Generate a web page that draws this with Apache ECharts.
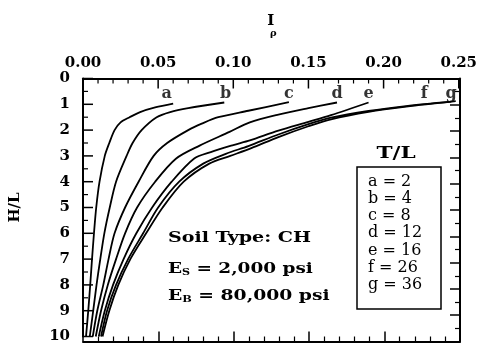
<!DOCTYPE html>
<html><head><meta charset="utf-8">
<script src="https://cdn.jsdelivr.net/npm/echarts@6/dist/echarts.min.js"></script>
<style>html,body{margin:0;padding:0;background:#fff}#c{width:480px;height:344px}</style>
</head><body><div id="c"></div>
<script>
// ---- data ----
const xTicks = ['0.00','0.05','0.10','0.15','0.20','0.25'];
const yTicks = ['0','1','2','3','4','5','6','7','8','9','10'];
const curveNames = ['a','b','c','d','e','f','g'];
const curveTL = [2, 4, 8, 12, 16, 26, 36];
const curveA = [[0.002,10],[0.0035,9],[0.0048,8],[0.006,7],[0.0073,6],[0.0088,5],[0.011,4],[0.0145,3],[0.0175,2.5],[0.021,2],[0.025,1.7],[0.031,1.5],[0.038,1.3],[0.048,1.12],[0.060,0.97]];
const curveB = [[0.0045,10],[0.0068,9],[0.009,8],[0.0115,7],[0.0142,6],[0.0178,5],[0.022,4],[0.029,3],[0.033,2.5],[0.039,2],[0.049,1.5],[0.058,1.3],[0.070,1.15],[0.094,0.93]];
const curveC = [[0.0065,10],[0.0095,9],[0.0135,8],[0.017,7],[0.021,6],[0.028,5],[0.037,4],[0.047,3],[0.056,2.5],[0.070,2],[0.079,1.75],[0.090,1.5],[0.110,1.25],[0.137,0.92]];
const curveD = [[0.0085,10],[0.012,9],[0.0165,8],[0.022,7],[0.028,6],[0.036,5],[0.048,4],[0.062,3.1],[0.0776,2.6],[0.0975,2.07],[0.111,1.7],[0.130,1.4],[0.150,1.15],[0.169,0.93]];
const curveE = [[0.0105,10],[0.0145,9],[0.020,8],[0.027,7],[0.0355,6],[0.046,5],[0.059,4],[0.074,3.1],[0.085,2.85],[0.100,2.58],[0.111,2.4],[0.130,2.02],[0.150,1.68],[0.165,1.42],[0.190,0.93]];
const curveF = [[0.012,10],[0.016,9],[0.022,8],[0.030,7],[0.040,6],[0.050,5],[0.064,4],[0.080,3.3],[0.095,2.92],[0.110,2.62],[0.130,2.17],[0.150,1.77],[0.165,1.52],[0.190,1.26],[0.215,1.07],[0.245,0.9]];
const curveG = [[0.013,10],[0.0175,9],[0.0235,8],[0.0315,7],[0.042,6],[0.053,5],[0.067,4],[0.084,3.3],[0.098,3.0],[0.112,2.7],[0.130,2.27],[0.150,1.85],[0.165,1.58],[0.190,1.29],[0.215,1.09],[0.248,0.88]];
const curveLabelX = [0.0557, 0.0948, 0.137, 0.169, 0.190, 0.227, 0.245];
const curveLabelY = 0.58;
const soilLines = ['Soil Type: CH', '2,000 psi', '80,000 psi'];

// ---- chart ----
const curves = [curveA, curveB, curveC, curveD, curveE, curveF, curveG];
const FONT = 'DejaVu Serif';
const chart = echarts.init(document.getElementById('c'), null, {renderer: 'canvas'});

function axisBase(extra, split, ticks) {
  return Object.assign({
    type: 'value', min: 0,
    axisLine: {show: true, lineStyle: {color: '#000', width: 2}},
    splitLine: {show: false},
    axisTick: {show: ticks, inside: true, length: 10, lineStyle: {color: '#000', width: 1.5}},
    minorTick: {show: ticks, splitNumber: split, length: 5, lineStyle: {color: '#000', width: 1.2}}
  }, extra);
}

// tick positions for top and left edges (major every 0.05 / 1, minor every 0.01 / 0.5)
const topTickData = [];
for (let i = 0; i <= 25; i++) topTickData.push([i / 100, 0, i % 5 === 0 ? 1 : 0]);
const leftTickData = [];
for (let j = 0; j <= 20; j++) leftTickData.push([0, j / 2, j % 2 === 0 ? 1 : 0]);

const series = curves.map((d, i) => ({
  type: 'line', name: curveNames[i], data: d, smooth: 0.3, symbol: 'none',
  xAxisIndex: 0, yAxisIndex: 0,
  lineStyle: {color: '#000', width: 1.8}, silent: true, z: 3
}));
series.push({
  type: 'scatter', xAxisIndex: 0, yAxisIndex: 0, symbolSize: 0, silent: true,
  data: curveNames.map((n, i) => ({name: n, value: [curveLabelX[i], curveLabelY]})),
  label: {show: true, position: 'inside', formatter: p => p.name,
    fontFamily: FONT, fontWeight: 'bold', fontSize: 16, color: '#000'}
});
series.push({
  type: 'custom', xAxisIndex: 0, yAxisIndex: 0, silent: true, clip: false, z: 5,
  data: topTickData,
  renderItem: (params, api) => {
    const p = api.coord([api.value(0), api.value(1)]);
    const major = api.value(2) === 1;
    return {type: 'line', shape: {x1: p[0], y1: p[1], x2: p[0], y2: p[1] + (major ? 10 : 5)},
      style: {stroke: '#000', lineWidth: major ? 1.5 : 1.2}};
  }
});
series.push({
  type: 'custom', xAxisIndex: 0, yAxisIndex: 0, silent: true, clip: false, z: 5,
  data: leftTickData,
  renderItem: (params, api) => {
    const p = api.coord([api.value(0), api.value(1)]);
    const major = api.value(2) === 1;
    return {type: 'line', shape: {x1: p[0], y1: p[1], x2: p[0] + (major ? 10 : 5), y2: p[1]},
      style: {stroke: '#000', lineWidth: major ? 1.5 : 1.2}};
  }
});

const legendLines = curveNames.map((n, i) => n + ' = ' + curveTL[i]).join('\n');
const richSub = {
  e: {font: 'bold 15px "DejaVu Serif"', fill: '#000', verticalAlign: 'bottom', lineHeight: 22},
  s: {font: 'bold 9px "DejaVu Serif"', fill: '#000', verticalAlign: 'bottom', lineHeight: 14},
  t: {font: 'bold 15px "DejaVu Serif"', fill: '#000', verticalAlign: 'bottom', lineHeight: 22}
};
const gridRect = {left: 83, right: 20, top: 78.5, bottom: 2.5, containLabel: false};

chart.setOption({
  animation: false,
  backgroundColor: '#fff',
  grid: [Object.assign({}, gridRect), Object.assign({}, gridRect)],
  xAxis: [
    axisBase({gridIndex: 0, position: 'top', max: 0.25, interval: 0.05,
      axisLabel: {show: true, margin: 8, formatter: (v) => xTicks[Math.round(v / 0.05)],
        fontFamily: FONT, fontWeight: 'bold', fontSize: 15, color: '#000'},
      name: 'I', nameLocation: 'middle', nameGap: 50,
      nameTextStyle: {fontFamily: FONT, fontWeight: 'bold', fontSize: 15, color: '#000'}}, 5, false),
    axisBase({gridIndex: 1, position: 'bottom', inverse: true, max: 0.25, interval: 0.05, axisLabel: {show: false}}, 5, true)
  ],
  yAxis: [
    axisBase({gridIndex: 0, position: 'left', inverse: true, max: 10, interval: 1,
      axisLabel: {show: true, margin: 13, formatter: (v) => yTicks[Math.round(v)],
        fontFamily: FONT, fontWeight: 'bold', fontSize: 15, color: '#000'},
      name: 'H/L', nameLocation: 'middle', nameGap: 60, nameRotate: 90,
      nameTextStyle: {fontFamily: FONT, fontWeight: 'bold', fontSize: 15, color: '#000'}}, 2, false),
    axisBase({gridIndex: 1, position: 'right', max: 10, interval: 1, axisLabel: {show: false}}, 2, true)
  ],
  series: series,
  graphic: [
    {type: 'text', x: 270, y: 33, style: {text: 'ρ', font: 'bold 10px "DejaVu Serif"', fill: '#000', verticalAlign: 'middle'}},
    {type: 'text', x: 168, y: 238, scaleX: 1.27, style: {text: soilLines[0], font: 'bold 15px "DejaVu Serif"', fill: '#000', verticalAlign: 'middle'}},
    {type: 'text', x: 168, y: 255, scaleX: 1.23, style: {text: '{e|E}{s|S}{t| = ' + soilLines[1] + '}', rich: richSub}},
    {type: 'text', x: 168, y: 282, scaleX: 1.25, style: {text: '{e|E}{s|B}{t| = ' + soilLines[2] + '}', rich: richSub}},
    {type: 'text', x: 396, y: 154, scaleX: 1.35, style: {text: 'T/L', font: 'bold 16px "DejaVu Serif"', fill: '#000', align: 'center', verticalAlign: 'middle'}},
    {type: 'rect', shape: {x: 357, y: 167, width: 84, height: 142},
      style: {fill: '#fff', stroke: '#000', lineWidth: 1.5}, z: 10},
    {type: 'text', x: 368, y: 173, z: 11, style: {text: legendLines,
      font: '16px "DejaVu Serif"', lineHeight: 17.2, fill: '#000'}}
  ]
});
</script></body></html>
